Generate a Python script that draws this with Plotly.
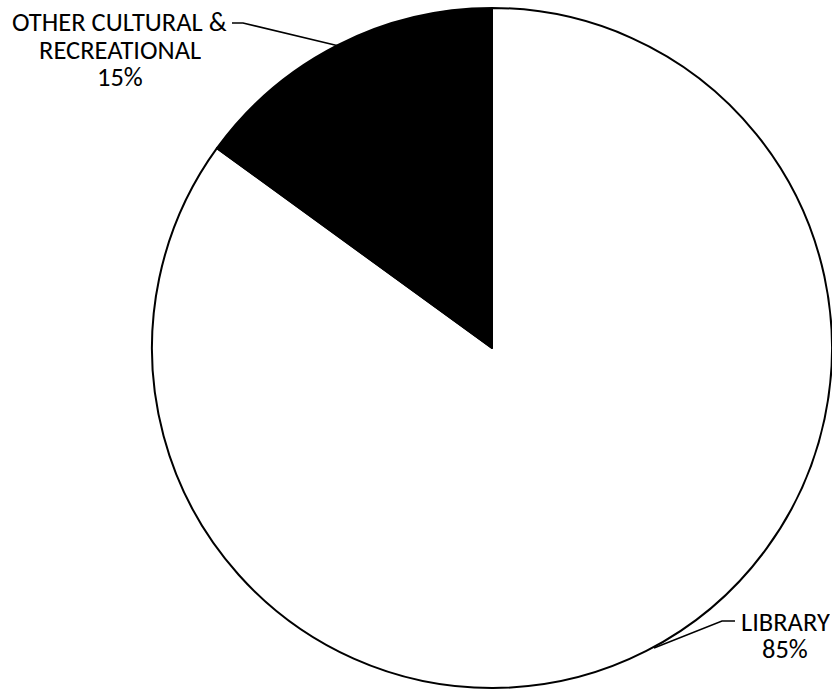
import plotly.graph_objects as go

labels = ["LIBRARY", "OTHER CULTURAL &<br>RECREATIONAL"]
values = [85, 15]
colors = ["#FFFFFF", "#000000"]

W, H = 832, 692

def px(x, y):
    return x / W, 1 - y / H

cx, cy, r = 492, 348, 340
x0, _ = px(cx - r, 0)
x1, _ = px(cx + r, 0)
_, y1 = px(0, cy - r)
_, y0 = px(0, cy + r)

fig = go.Figure(go.Pie(
    labels=labels, values=values, sort=False, direction="clockwise",
    rotation=0, marker=dict(colors=colors, line=dict(color="#000000", width=2)),
    textinfo="none", hoverinfo="label+percent", showlegend=False,
    domain=dict(x=[x0, x1], y=[y0, y1]),
))

total = sum(values)
label_x = [785, 120]
label_top = [621, 22]
line_step = 27
leaders = [[(735, 621), (722, 621), (654, 648)], [(232, 23), (243, 23), (339, 46)]]
font = dict(family="Carlito, Calibri, Lato, sans-serif", size=26.5, color="#000000")
for lab, v, lx, ly, pts in zip(labels, values, label_x, label_top, leaders):
    lines = lab.split("<br>") + [f"{round(100 * v / total)}%"]
    for k, t in enumerate(lines):
        ax, ay = px(lx, ly + k * line_step)
        fig.add_annotation(x=ax, y=ay, xref="paper", yref="paper", showarrow=False,
                           text=t, font=font, xanchor="center", yanchor="middle",
                           align="center", height=line_step - 2, borderpad=0)
    path = ""
    for i, (qx, qy) in enumerate(pts):
        a, b = px(qx, qy)
        path += ("M" if i == 0 else " L") + f" {a} {b}"
    fig.add_shape(type="path", path=path, xref="paper", yref="paper",
                  line=dict(color="#000000", width=1.5))

fig.update_layout(width=W, height=H, margin=dict(l=0, r=0, t=0, b=0),
                  paper_bgcolor="white", plot_bgcolor="white")
fig.write_html("out.html", config={"displayModeBar": False},
               post_script="document.body.style.margin='0';document.body.style.overflow='hidden';")
